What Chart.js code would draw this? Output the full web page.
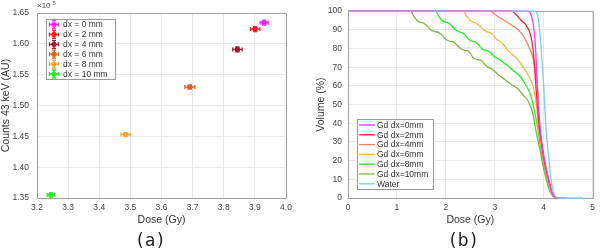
<!DOCTYPE html>
<html><head><meta charset="utf-8">
<script src="https://cdn.jsdelivr.net/npm/chart.js@4"></script>
<style>
html,body{margin:0;padding:0;background:#fff;width:600px;height:252px;overflow:hidden;font-family:"Liberation Sans",Arial,sans-serif}
#a{position:absolute;left:0;top:0;width:300px;height:252px}
#b{position:absolute;left:300px;top:0;width:300px;height:252px}
.lab{position:absolute;top:230px;font-family:"DejaVu Sans",sans-serif;font-size:17px;letter-spacing:1.5px;color:#222;text-align:center;width:60px}
</style></head><body>
<canvas id="a" width="300" height="252"></canvas>
<canvas id="b" width="300" height="252"></canvas>
<div class="lab" style="left:121px">(a)</div>
<div class="lab" style="left:434px">(b)</div>
<script>
// ---------- panel (a) data ----------
const labelsA = ['dx = 0 mm','dx = 2 mm','dx = 4 mm','dx = 6 mm','dx = 8 mm','dx = 10 mm'];
const doseA = [3.930, 3.901, 3.844, 3.691, 3.485, 3.245];
const countsA = [1.6345, 1.624, 1.591, 1.530, 1.453, 1.355];
const doseErrA = [0.013, 0.015, 0.015, 0.016, 0.015, 0.012];
const countsErrA = [0.004, 0.004, 0.004, 0.003, 0.003, 0.003];
const colorsA = ['#ff22ff','#ff1a1a','#a3172f','#e2601c','#f2a82e','#22ee22'];
const xTicksA = [3.2,3.3,3.4,3.5,3.6,3.7,3.8,3.9,4.0];
const yTicksA = [1.35,1.40,1.45,1.50,1.55,1.60,1.65];

// ---------- panel (b) data (DVH) ----------
const labelsB = ['Gd dx=0mm','Gd dx=2mm','Gd dx=4mm','Gd dx=6mm','Gd dx=8mm','Gd dx=10mm','Water'];
const colorsB = ['#ff33ff','#ff2020','#f08462','#f8b342','#22ee22','#88b04a','#7ccff2'];
const dose0 = [0,3.68,3.74,3.79,3.83,3.87,3.89,3.92,3.96,4.02,4.10,4.17,4.24,4.30,4.45];
const vol0  = [100,100,98,92.5,82,60,50,40,30,20,10,3,0.3,0,0];
const dose2 = [0,3.34,3.44,3.54,3.64,3.71,3.76,3.80,3.84,3.87,3.90,3.95,4.01,4.10,4.17,4.24,4.30,4.45];
const vol2  = [100,100,98,95,92.5,89,83.6,75,60,50,40,30,20,10,3,0.3,0,0];
const dose4 = [0,2.90,2.97,3.07,3.20,3.34,3.48,3.61,3.71,3.78,3.83,3.87,3.89,3.91,3.95,4.01,4.09,4.16,4.23,4.30,4.45];
const vol4  = [100,100,99,97,95,92.5,90,85.5,80,75,67.5,60,50,40,30,20,10,3,0.3,0,0];
const dose6 = [0,2.36,2.43,2.50,2.57,2.62,2.70,2.77,2.84,2.90,2.97,3.03,3.10,3.18,3.27,3.47,3.58,3.70,3.78,3.82,3.85,3.89,3.94,4.00,4.08,4.15,4.22,4.30,4.45];
const vol6  = [100,100,97,95,94,93.5,92,90,89,88.5,87,85,84,82,79,74,70,65,60,55,50,40,30,20,10,3,0.3,0,0];
const dose8 = [0,1.79,1.86,1.92,2.00,2.06,2.13,2.20,2.27,2.33,2.40,2.46,2.53,2.60,2.67,2.73,2.80,2.87,2.94,3.00,3.07,3.13,3.20,3.30,3.41,3.52,3.62,3.72,3.80,3.86,3.92,3.99,4.07,4.14,4.22,4.30,4.45];
const vol8  = [100,100,97,95,94,93.5,92,90,89,88.5,87,85,84,83.5,82,80,79,78.5,77,75.5,74.5,73.5,72,70,67.5,65,61,56,48,40,30,20,10,3,0.3,0,0];
const dose10 = [0,1.28,1.35,1.41,1.48,1.55,1.62,1.69,1.78,1.86,1.93,1.99,2.07,2.15,2.22,2.30,2.38,2.46,2.51,2.56,2.65,2.73,2.78,2.83,2.90,2.97,3.07,3.20,3.35,3.47,3.58,3.68,3.78,3.84,3.91,3.98,4.06,4.14,4.22,4.30,4.45];
const vol10  = [100,100,97,95,94,93.5,92,90,89,88.5,87,85,84,83.5,82,80,79,78.5,77,75,74,73.5,72,70.5,69.5,68.5,66,63.5,60.5,58.5,55,52,45,36,27.5,18,9,3,0.3,0,0];
const doseW = [0,3.80,3.84,3.89,3.92,3.96,4.00,4.04,4.07,4.11,4.15,4.20,4.27,4.35,4.80];
const volW  = [100,100,99.5,96,89,75,60,40,30,20,10,3,0.3,0,0];
const xTicksB = [0,1,2,3,4,5];
const yTicksB = [0,10,20,30,40,50,60,70,80,90,100];

const FONT = '"Liberation Sans", Arial, sans-serif';
Chart.defaults.font.family = FONT;
Chart.defaults.animation = false;

const boxPlugin = {
  id:'box',
  beforeDatasetsDraw(chart){
    const a = chart.chartArea, c = chart.ctx;
    c.save(); c.strokeStyle = '#a0a0a0'; c.lineWidth = 1;
    c.strokeRect(Math.round(a.left)+0.5, Math.round(a.top)+0.5, Math.round(a.right-a.left), Math.round(a.bottom-a.top));
    c.restore();
  }
};

function pts(xs, ys){ return xs.map((x,i)=>({x:x, y:ys[i]})); }

// ---------- chart (a) ----------
const errPlugin = {
  id:'err',
  afterDatasetsDraw(chart){
    const c = chart.ctx, xs = chart.scales.x, ys = chart.scales.y;
    c.save();
    chart.data.datasets.forEach((ds,i)=>{
      const px = xs.getPixelForValue(doseA[i]), py = ys.getPixelForValue(countsA[i]);
      const x1 = xs.getPixelForValue(doseA[i]-doseErrA[i]), x2 = xs.getPixelForValue(doseA[i]+doseErrA[i]);
      const y1 = ys.getPixelForValue(countsA[i]-countsErrA[i]), y2 = ys.getPixelForValue(countsA[i]+countsErrA[i]);
      c.strokeStyle = colorsA[i]; c.lineWidth = 1.3;
      c.beginPath();
      c.moveTo(x1,py); c.lineTo(x2,py);
      c.moveTo(x1,py-2); c.lineTo(x1,py+2);
      c.moveTo(x2,py-2); c.lineTo(x2,py+2);
      c.moveTo(px,y1); c.lineTo(px,y2);
      c.moveTo(px-2,y1); c.lineTo(px+2,y1);
      c.moveTo(px-2,y2); c.lineTo(px+2,y2);
      c.stroke();
    });
    // legend
    const L = 46, T = 19, W = 69, H = 60;
    c.fillStyle = '#fff'; c.fillRect(L,T,W,H);
    c.strokeStyle = '#9a9a9a'; c.lineWidth = 1; c.strokeRect(L+0.5,T+0.5,W,H);
    c.font = '8.5px ' + FONT; c.textBaseline = 'middle'; c.textAlign = 'left';
    labelsA.forEach((t,i)=>{
      const y = T + 5.5 + i*9.9, x = 54;
      c.strokeStyle = colorsA[i]; c.fillStyle = colorsA[i]; c.lineWidth = 1.3;
      c.beginPath();
      c.moveTo(x-4.5,y); c.lineTo(x+4.5,y);
      c.moveTo(x-4.5,y-2); c.lineTo(x-4.5,y+2);
      c.moveTo(x+4.5,y-2); c.lineTo(x+4.5,y+2);
      c.moveTo(x,y-4); c.lineTo(x,y+4);
      c.moveTo(x-2,y-4); c.lineTo(x+2,y-4);
      c.moveTo(x-2,y+4); c.lineTo(x+2,y+4);
      c.stroke();
      c.beginPath(); c.arc(x,y,2.6,0,Math.PI*2); c.fill();
      c.fillStyle = '#333'; c.fillText(t, 63, y+0.5);
    });
    // exponent
    c.fillStyle = '#555'; c.font = '8px ' + FONT; c.textBaseline = 'alphabetic';
    c.fillText('\u00d710', 37, 8);
    c.font = '6px ' + FONT; c.fillText('5', 52.5, 5);
    c.restore();
  }
};

new Chart(document.getElementById('a'), {
  type:'scatter',
  data:{ datasets: labelsA.map((l,i)=>({
    label:l, data:[{x:doseA[i], y:countsA[i]}],
    backgroundColor:colorsA[i], borderColor:colorsA[i], pointRadius:2.8, pointBorderWidth:0
  }))},
  options:{
    responsive:false, devicePixelRatio:1,
    layout:{padding:{left:0,right:14,top:11,bottom:26}},
    plugins:{legend:{display:false}, tooltip:{enabled:false}},
    scales:{
      x:{ type:'linear', min:3.2, max:4.0,
        afterBuildTicks(s){ s.ticks = xTicksA.map(v=>({value:v})); },
        afterFit(s){ s.height = 28; },
        grid:{color:'#e8e8e8', drawTicks:false}, border:{display:false},
        ticks:{padding:5, color:'#444', font:{size:8.5}, maxRotation:0, callback:v=>Number(v).toFixed(1)},
        title:{display:true, text:'Dose (Gy)', color:'#333', font:{size:10.5}, padding:{top:0,bottom:0}}
      },
      y:{ type:'linear', min:1.35, max:1.65,
        afterBuildTicks(s){ s.ticks = yTicksA.map(v=>({value:v})); },
        afterFit(s){ s.width = 37; },
        grid:{color:'#e8e8e8', drawTicks:false}, border:{display:false},
        ticks:{padding:8, color:'#444', font:{size:8.5}, callback:v=>Number(v).toFixed(2)},
        title:{display:true, text:'Counts 43 keV (AU)', color:'#333', font:{size:10.5}, padding:{top:0,bottom:0}}
      }
    }
  },
  plugins:[boxPlugin, errPlugin]
});

// ---------- chart (b) ----------
const curves = [[dose0,vol0],[dose2,vol2],[dose4,vol4],[dose6,vol6],[dose8,vol8],[dose10,vol10],[doseW,volW]];
const legB = {
  id:'legB',
  afterDatasetsDraw(chart){
    const c = chart.ctx;
    c.save();
    const L = 357, T = 119, W = 76, H = 70;
    const ox = -300;
    c.fillStyle = '#fff'; c.fillRect(L+ox,T,W,H);
    c.strokeStyle = '#9a9a9a'; c.lineWidth = 1; c.strokeRect(L+ox+0.5,T+0.5,W,H);
    c.font = '8.5px ' + FONT; c.textBaseline = 'middle'; c.textAlign = 'left';
    labelsB.forEach((t,i)=>{
      const y = T + 6 + i*9.8;
      c.strokeStyle = colorsB[i]; c.lineWidth = 1.3;
      c.beginPath(); c.moveTo(359+ox,y); c.lineTo(375+ox,y); c.stroke();
      c.fillStyle = '#333'; c.fillText(t, 377+ox, y+0.5);
    });
    c.restore();
  }
};

new Chart(document.getElementById('b'), {
  type:'line',
  data:{ datasets: labelsB.map((l,i)=>({
    label:l, data:pts(curves[i][0], curves[i][1]),
    borderColor:colorsB[i], backgroundColor:colorsB[i], borderWidth:1.3,
    pointRadius:0, cubicInterpolationMode:'monotone', fill:false, clip:4,
    order: i===6 ? 0 : i+1
  }))},
  options:{
    responsive:false, devicePixelRatio:1,
    layout:{padding:{left:0,right:5,top:11,bottom:26}},
    plugins:{legend:{display:false}, tooltip:{enabled:false}},
    scales:{
      x:{ type:'linear', min:0, max:5,
        afterBuildTicks(s){ s.ticks = xTicksB.map(v=>({value:v})); },
        afterFit(s){ s.height = 28; },
        grid:{color:'#e8e8e8', drawTicks:false}, border:{display:false},
        ticks:{padding:5, color:'#444', font:{size:8.5}, maxRotation:0},
        title:{display:true, text:'Dose (Gy)', color:'#333', font:{size:10.5}, padding:{top:0,bottom:0}}
      },
      y:{ type:'linear', min:0, max:100,
        afterBuildTicks(s){ s.ticks = yTicksB.map(v=>({value:v})); },
        afterFit(s){ s.width = 48; },
        grid:{color:'#e8e8e8', drawTicks:false}, border:{display:false},
        ticks:{padding:6, color:'#444', font:{size:8.5}},
        title:{display:true, text:'Volume (%)', color:'#333', font:{size:10.5}, padding:{top:15,bottom:0}}
      }
    }
  },
  plugins:[boxPlugin, legB]
});
</script>
</body></html>
